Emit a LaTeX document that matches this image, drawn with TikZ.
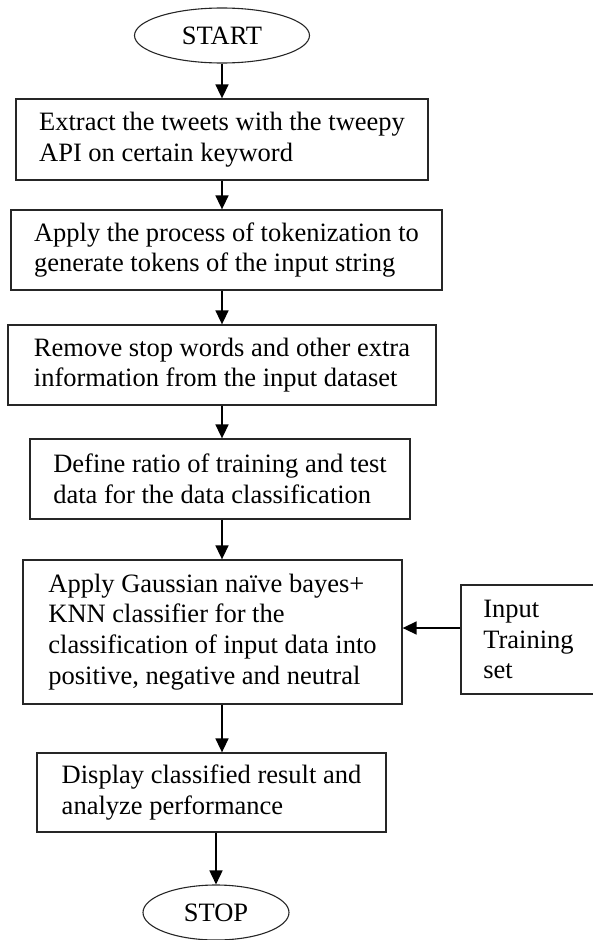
\documentclass[tikz,border=0pt]{standalone}
\usepackage{fontspec}
\setmainfont{Liberation Serif}
\usepackage{tikz}
\usetikzlibrary{positioning,arrows.meta,shapes}

\begin{document}
\begin{tikzpicture}[
    x=1pt, y=-1pt,
    box/.style={rectangle, draw=black!85, line width=1.3pt, align=left, inner sep=0pt,
        font=\rmfamily\fontsize{26.5}{30.7}\selectfont},
    term/.style={ellipse, draw=black!85, line width=1.1pt, inner sep=0pt,
        font=\rmfamily\fontsize{26.5}{30.7}\selectfont},
    arrow/.style={-{Triangle[length=14pt,width=13pt]}, line width=1.6pt}
]
    \useasboundingbox (0,0) rectangle (592,940);

    \node[term, minimum width=175pt, minimum height=55pt] (start) at (222,35.5) {START};
    \node[box, minimum width=412pt, minimum height=81pt] (extract) at (222,139.5)
        {Extract the tweets with the tweepy\\API on certain keyword};
    \node[box, minimum width=431pt, minimum height=80pt] (token) at (226.5,250)
        {Apply the process of tokenization to\\generate tokens of the input string};
    \node[box, minimum width=428pt, minimum height=80pt] (stopw) at (222,365)
        {Remove stop words and other extra\\information from the input dataset};
    \node[box, minimum width=380pt, minimum height=80pt] (ratio) at (220,479)
        {Define ratio of training and test\\data for the data classification};
    \node[box, minimum width=379pt, minimum height=144pt] (classify) at (212.5,632)
        {Apply Gaussian naïve bayes+\\KNN classifier for the\\classification of input data into\\positive, negative and neutral};
    \node[box, minimum width=135pt, minimum height=109pt] (train) at (528.5,639.5)
        {Input\\Training\\set};
    \node[box, minimum width=349pt, minimum height=79pt] (result) at (211.5,792.5)
        {Display classified result and\\analyze performance};
    \node[term, minimum width=146pt, minimum height=55pt] (stop) at (216,912.5) {STOP};

    \draw[arrow] (start.south) -- (start.south |- extract.north);
    \draw[arrow] (extract.south) -- (extract.south |- token.north);
    \draw[arrow] (stopw.north |- token.south) -- (stopw.north);
    \draw[arrow] (stopw.south) -- (stopw.south |- ratio.north);
    \draw[arrow] (ratio.south -| start) -- (classify.north -| start);
    \draw[arrow] (classify.south -| start) -- (result.north -| start);
    \draw[arrow] (stop.north |- result.south) -- (stop.north);
    \draw[arrow] ([yshift=11.5pt]train.west) -- ([yshift=11.5pt]train.west -| classify.east);
\end{tikzpicture}
\end{document}
